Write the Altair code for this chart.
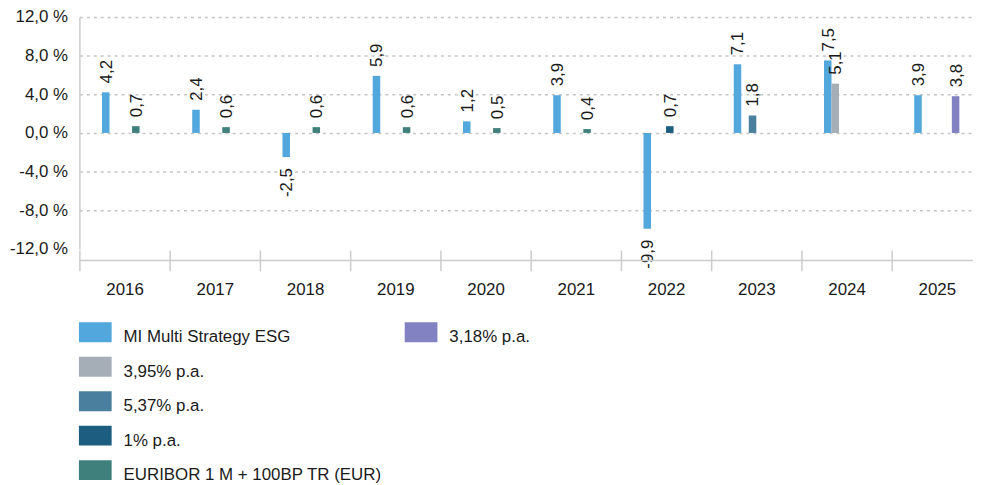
import altair as alt
import pandas as pd

years = ["2016", "2017", "2018", "2019", "2020", "2021", "2022", "2023", "2024", "2025"]
series_names = [
    "MI Multi Strategy ESG",
    "3,95% p.a.",
    "5,37% p.a.",
    "1% p.a.",
    "EURIBOR 1 M + 100BP TR (EUR)",
    "3,18% p.a.",
]
series_colors = ["#52a7dd", "#a5aeb7", "#4a7f9d", "#1d5e80", "#40807c", "#8282c2"]

mi_values = [4.2, 2.4, -2.5, 5.9, 1.2, 3.9, -9.9, 7.1, 7.5, 3.9]
p395_values = [None, None, None, None, None, None, None, None, 5.1, None]
p537_values = [None, None, None, None, None, None, None, 1.8, None, None]
p1_values = [None, None, None, None, None, None, 0.7, None, None, None]
euribor_values = [0.7, 0.6, 0.6, 0.6, 0.5, 0.4, None, None, None, None]
p318_values = [None, None, None, None, None, None, None, None, None, 3.8]

legend_cols = [0, 0, 0, 0, 0, 1]
legend_rows = [0, 1, 2, 3, 4, 0]

all_series = [mi_values, p395_values, p537_values, p1_values, euribor_values, p318_values]
rows = []
for name, vals in zip(series_names, all_series):
    for yr, v in zip(years, vals):
        if v is not None:
            rows.append({"year": yr, "series": name, "value": v})
df = pd.DataFrame(rows)
legend_df = pd.DataFrame({"series": series_names, "col": legend_cols, "row": legend_rows})

STEP = 91                      # pixels per year group
W, H = 901, 234
NS = len(series_names)
FONT = "Liberation Sans"
TXT = "#1a1a1a"
AXC = "#cccccc"

years_js = "[" + ",".join("'%s'" % y for y in years) + "]"
series_js = "[" + ",".join("'%s'" % s for s in series_names) + "]"

color = alt.Color("series:N", scale=alt.Scale(domain=series_names, range=series_colors), legend=None)

x_scale = alt.Scale(domain=[0, W / STEP], nice=False, zero=False, padding=0)
x_axis = alt.Axis(
    title=None, values=list(range(len(years))),
    labelExpr=years_js + "[round(datum.value)]",
    labelOffset=STEP / 2, labelFlush=False, labelOverlap=False, labelBound=False,
    labelAngle=0, tickSize=21, offset=1, domain=False, grid=False,
    labelPadding=11, labelFontSize=17, labelColor=TXT, labelFont=FONT,
    tickColor=AXC, tickWidth=1.5,
)
y_scale = alt.Scale(domain=[-12, 12], nice=False, zero=False, padding=0)
y_axis = alt.Axis(
    title=None, values=[-12, -8, -4, 0, 4, 8, 12],
    labelExpr="(datum.value < 0 ? '-' : '') + replace(format(abs(datum.value), '.1f'), '.', ',') + ' %'",
    grid=True, gridDash=[3, 4], gridColor="#c4c4c4", gridWidth=1.5,
    gridOpacity=alt.condition("datum.value == -12", alt.value(0), alt.value(1)),
    domain=True, domainColor=AXC, domainWidth=1.5, ticks=False,
    labelPadding=12, labelFontSize=17, labelColor=TXT, labelFont=FONT,
)
y_enc = alt.Y("value:Q", scale=y_scale, axis=y_axis)

base = alt.Chart(df).transform_calculate(
    gi="indexof(" + years_js + ", datum.year)",
    si="indexof(" + series_js + ", datum.series)",
).transform_calculate(
    xs="datum.gi + 0.25 + datum.si * 0.5 / %d" % NS,
    xe="datum.gi + 0.25 + (datum.si + 1) * 0.5 / %d" % NS,
    xm="datum.gi + 0.25 + (datum.si + 0.5) * 0.5 / %d" % NS,
    lbl="(datum.value < 0 ? '-' : '') + replace(format(abs(datum.value), '.1f'), '.', ',')",
)

bars = base.mark_bar(orient="vertical").encode(
    x=alt.X("xs:Q", scale=x_scale, axis=x_axis), x2="xe:Q",
    y=y_enc, y2=alt.datum(0), color=color,
)

pos_labels = base.transform_filter("datum.value >= 0").mark_text(
    angle=270, align="left", baseline="middle", dx=9, dy=1, fontSize=17, font=FONT, color=TXT
).encode(x=alt.X("xm:Q", scale=x_scale, axis=x_axis), y=y_enc, text="lbl:N")

neg_labels = base.transform_filter("datum.value < 0").mark_text(
    angle=270, align="right", baseline="middle", dx=-11, dy=1, fontSize=17, font=FONT, color=TXT
).encode(x=alt.X("xm:Q", scale=x_scale, axis=x_axis), y=y_enc, text="lbl:N")

x_domain_line = alt.Chart(pd.DataFrame({"k": [0]})).mark_rule(color=AXC, strokeWidth=1.5).encode(
    x=alt.value(0), x2=alt.value(W), y=alt.value(H + 11.5)
)

main = alt.layer(bars, pos_labels, neg_labels, x_domain_line)

lx = alt.X("col:O", scale=alt.Scale(type="point", domain=[0, 1], range=[16, 344.5], padding=0), axis=None)
ly = alt.Y("row:O", scale=alt.Scale(type="point", domain=[0, 1, 2, 3, 4], range=[318, 457], padding=0), axis=None)

swatches = alt.Chart(legend_df).mark_point(
    shape="M-1,-0.606L1,-0.606L1,0.606L-1,0.606Z", size=1089, filled=True, opacity=1, strokeWidth=0
).encode(x=lx, y=ly, color=color)

legend_text = alt.Chart(legend_df).mark_text(
    align="left", baseline="alphabetic", dx=28.5, dy=10, fontSize=17, font=FONT, color=TXT
).encode(x=lx, y=ly, text="series:N")

legend = alt.layer(swatches, legend_text)

chart = alt.layer(main, legend).resolve_scale(x="independent", y="independent").properties(
    width=W, height=H,
    padding={"left": 72, "top": 7, "right": 0, "bottom": 236},
    autosize=alt.AutoSizeParams(type="none"),
).configure_view(stroke=None)

chart.save("out.html", embed_options={"renderer": "svg", "actions": False})
